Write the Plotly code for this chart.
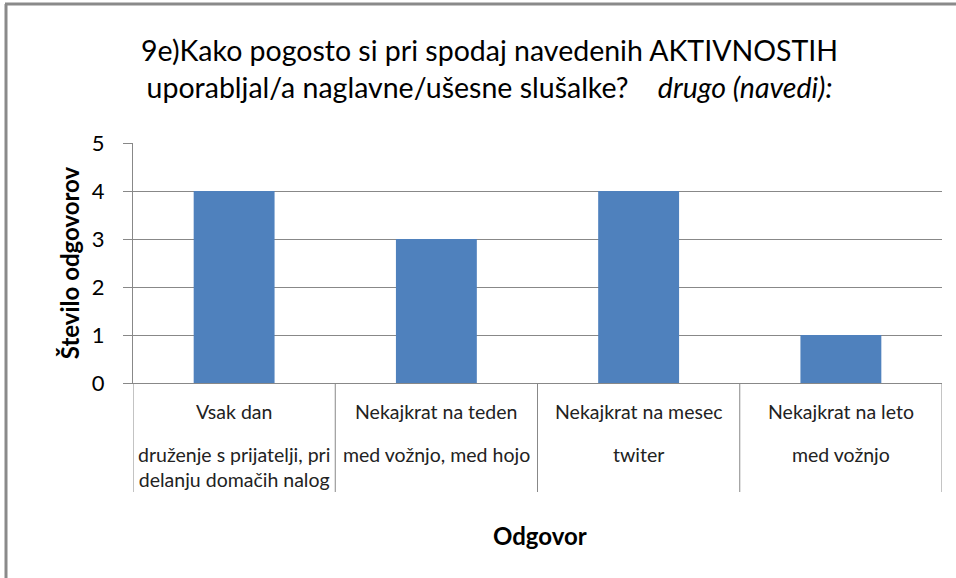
import plotly.graph_objects as go

# ---- data ----
categories = ["Vsak dan", "Nekajkrat na teden", "Nekajkrat na mesec", "Nekajkrat na leto"]
details = ["druženje s prijatelji, pri<br>delanju domačih nalog", "med vožnjo, med hojo", "twiter", "med vožnjo"]
values = [4, 3, 4, 1]
y_ticks = [0, 1, 2, 3, 4, 5]

title_main = "9e)Kako pogosto si pri spodaj navedenih AKTIVNOSTIH<br>uporabljal/a naglavne/ušesne slušalke?    <i>drugo (navedi):</i>"
y_title = "Število odgovorov"
x_title = "Odgovor"

# ---- layout geometry (pixels) ----
W, H = 956, 578
L, R, T, B = 133, 942, 143, 383
PW, PH = R - L, B - T
FONT = "Lato, Calibri, Carlito, sans-serif"
GRID = "#888888"

def px(x):
    return (x - L) / PW

def py(y):
    return (B - y) / PH

fig = go.Figure()
fig.add_trace(go.Bar(x=categories, y=values, marker=dict(color="#4F81BD", line=dict(width=0)),
                     hoverinfo="x+y"))

annotations = [
    dict(text=title_main, xref="paper", yref="paper", x=px(489), y=py(68), xanchor="center",
         yanchor="middle", showarrow=False, font=dict(family=FONT, size=28.5, color="#000000"),
         align="center"),
    dict(text="<b>" + x_title + "</b>", xref="paper", yref="paper", x=px(540), y=py(535),
         xanchor="center", yanchor="middle", showarrow=False,
         font=dict(family=FONT, size=24, color="#000000")),
]
for c, d in zip(categories, details):
    annotations.append(dict(text=c, xref="x", yref="paper", x=c, y=py(411), xanchor="center",
                            yanchor="middle", showarrow=False,
                            font=dict(family=FONT, size=19.5, color="#222222")))
    annotations.append(dict(text=d, xref="x", yref="paper", x=c, y=py(441), xanchor="center",
                            yanchor="top", showarrow=False, align="center",
                            font=dict(family=FONT, size=19.5, color="#222222")))

shapes = []
for i in range(len(categories) + 1):
    shapes.append(dict(type="line", xref="x", yref="paper", x0=i - 0.5, x1=i - 0.5,
                       y0=0, y1=py(492), line=dict(color=GRID, width=1)))
# outer chart border (left and top)
shapes.append(dict(type="line", xref="paper", yref="paper", x0=px(6), x1=px(6),
                   y0=py(4), y1=py(600), line=dict(color="#8a8a8a", width=3)))
shapes.append(dict(type="line", xref="paper", yref="paper", x0=px(5), x1=px(960),
                   y0=py(4), y1=py(4), line=dict(color="#8a8a8a", width=3)))

fig.update_layout(
    width=W, height=H,
    margin=dict(l=L, r=W - R, t=T, b=H - B, pad=0),
    paper_bgcolor="white", plot_bgcolor="white",
    showlegend=False,
    bargap=0.6,
    annotations=annotations,
    shapes=shapes,
    font=dict(family=FONT, color="#000000"),
)
fig.update_xaxes(type="category", categoryorder="array", categoryarray=categories,
                 showticklabels=False, showline=True, linecolor=GRID, linewidth=1,
                 ticks="", showgrid=False, zeroline=False, range=[-0.5, len(categories) - 0.5])
fig.update_yaxes(range=[0, 5], tickvals=y_ticks, showline=True, linecolor=GRID, linewidth=1,
                 ticks="outside", ticklen=9, tickcolor=GRID, showgrid=True, gridcolor=GRID,
                 gridwidth=1, zeroline=False, ticklabelstandoff=14,
                 tickfont=dict(family=FONT, size=22, color="#000000"),
                 title=dict(text="<b>" + y_title + "</b>", font=dict(family=FONT, size=24, color="#000000"),
                            standoff=5))

fig.write_html("out.html", config={"displayModeBar": False},
               post_script="document.body.style.margin='0';document.body.style.overflow='hidden';")
